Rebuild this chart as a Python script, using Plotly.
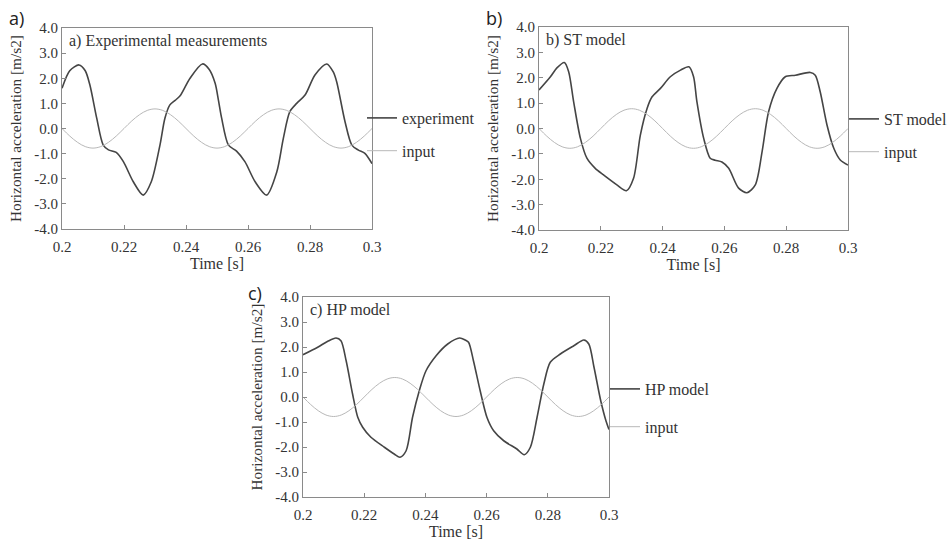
import plotly.graph_objects as go

# ---------------- data ----------------
input_t = [0.2000, 0.2025, 0.2050, 0.2075, 0.2100, 0.2125, 0.2150, 0.2175, 0.2200, 0.2225,
           0.2250, 0.2275, 0.2300, 0.2325, 0.2350, 0.2375, 0.2400, 0.2425, 0.2450, 0.2475,
           0.2500, 0.2525, 0.2550, 0.2575, 0.2600, 0.2625, 0.2650, 0.2675, 0.2700, 0.2725,
           0.2750, 0.2775, 0.2800, 0.2825, 0.2850, 0.2875, 0.2900, 0.2925, 0.2950, 0.2975,
           0.3000]
input_v = [0.00, -0.30, -0.55, -0.72, -0.78, -0.72, -0.55, -0.30, 0.00, 0.30,
           0.55, 0.72, 0.78, 0.72, 0.55, 0.30, 0.00, -0.30, -0.55, -0.72,
           -0.78, -0.72, -0.55, -0.30, 0.00, 0.30, 0.55, 0.72, 0.78, 0.72,
           0.55, 0.30, 0.00, -0.30, -0.55, -0.72, -0.78, -0.72, -0.55, -0.30,
           0.00]

exp_t = [0.2000, 0.2025, 0.2055, 0.2075, 0.2090, 0.2112, 0.2133, 0.2150, 0.2175, 0.2198,
         0.2230, 0.2262, 0.2288, 0.2316, 0.2332, 0.2348, 0.2365, 0.2381, 0.2413, 0.2453,
         0.2475, 0.2494, 0.2505, 0.2515, 0.2537, 0.2563, 0.2590, 0.2623, 0.2660, 0.2693,
         0.2714, 0.2735, 0.2757, 0.2784, 0.2816, 0.2854, 0.2875, 0.2886, 0.2913, 0.2935,
         0.2956, 0.2977, 0.3000]
exp_v = [1.60, 2.30, 2.53, 2.30, 1.73, 0.41, -0.66, -0.85, -0.95, -1.32,
         -2.12, -2.65, -2.12, -0.66, 0.41, 0.94, 1.12, 1.30, 2.00, 2.57,
         2.35, 1.80, 1.10, 0.41, -0.66, -0.90, -1.32, -2.12, -2.65, -1.72,
         -0.39, 0.67, 1.00, 1.33, 2.13, 2.57, 2.25, 1.86, 0.27, -0.66,
         -0.86, -0.99, -1.40]

st_t = [0.2000, 0.2037, 0.2058, 0.2082, 0.2096, 0.2112, 0.2134, 0.2155, 0.2182, 0.2209,
        0.2252, 0.2283, 0.2306, 0.2328, 0.2350, 0.2366, 0.2393, 0.2425, 0.2458, 0.2485,
        0.2500, 0.2511, 0.2533, 0.2554, 0.2570, 0.2592, 0.2614, 0.2646, 0.2673, 0.2700,
        0.2722, 0.2743, 0.2770, 0.2797, 0.2830, 0.2878, 0.2894, 0.2910, 0.2932, 0.2954,
        0.2975, 0.3000]
st_v = [1.52, 2.04, 2.39, 2.60, 2.24, 1.06, -0.39, -1.17, -1.57, -1.83,
        -2.22, -2.45, -1.96, -0.26, 0.80, 1.25, 1.58, 2.04, 2.30, 2.43,
        2.05, 1.06, -0.39, -1.17, -1.25, -1.32, -1.57, -2.35, -2.53, -2.22,
        -0.91, 0.66, 1.58, 2.04, 2.10, 2.21, 2.10, 1.45, 0.14, -0.78,
        -1.24, -1.44]

hp_t = [0.2000, 0.2048, 0.2081, 0.2108, 0.2124, 0.2141, 0.2162, 0.2179, 0.2195, 0.2222,
        0.2266, 0.2298, 0.2317, 0.2337, 0.2358, 0.2380, 0.2402, 0.2435, 0.2473, 0.2512,
        0.2530, 0.2541, 0.2557, 0.2579, 0.2601, 0.2623, 0.2656, 0.2699, 0.2723, 0.2743,
        0.2765, 0.2787, 0.2808, 0.2841, 0.2885, 0.2918, 0.2934, 0.2951, 0.2973, 0.2990,
        0.3000]
hp_v = [1.69, 1.99, 2.23, 2.36, 2.25, 1.45, 0.12, -0.81, -1.21, -1.61,
        -2.01, -2.28, -2.41, -2.15, -0.81, 0.25, 1.05, 1.65, 2.12, 2.36,
        2.28, 2.19, 1.45, 0.25, -0.81, -1.35, -1.75, -2.08, -2.31, -2.01,
        -0.81, 0.52, 1.39, 1.72, 2.05, 2.28, 2.12, 1.19, -0.15, -0.95,
        -1.30]

y_ticks = [-4, -3, -2, -1, 0, 1, 2, 3, 4]
y_labels = ["-4.0", "-3.0", "-2.0", "-1.0", "0.0", "1.0", "2.0", "3.0", "4.0"]
x_ticks = [0.2, 0.22, 0.24, 0.26, 0.28, 0.3]
x_labels = ["0.2", "0.22", "0.24", "0.26", "0.28", "0.3"]

model_names = ["experiment", "ST model", "HP model"]
panel_titles = ["a) Experimental measurements", "b) ST model", "c) HP model"]
panel_tags = ["a)", "b)", "c)"]

# ---------------- styling ----------------
W, H = 952, 540
SERIF = "Liberation Serif"
TXT = "#333333"
MAIN = "#454545"
INP = "#b8b8b8"
FRAME = "#8a8a8a"

# panel boxes in pixels: (left, right, top, bottom)
boxes = [(62, 372, 28, 229), (539, 848, 27, 230), (303, 609, 297, 497)]

def px(x):
    return x / W

def py(y):
    return 1 - y / H

fig = go.Figure()
series = [(exp_t, exp_v), (st_t, st_v), (hp_t, hp_v)]
legend_ids = ["legend", "legend2", "legend3"]

for i, ((tt, vv), name) in enumerate(zip(series, model_names)):
    xa = "x" if i == 0 else f"x{i+1}"
    ya = "y" if i == 0 else f"y{i+1}"
    fig.add_trace(go.Scatter(x=tt, y=vv, mode="lines", name=name,
                             line=dict(color=MAIN, width=1.6, shape="spline", smoothing=0.8),
                             xaxis=xa, yaxis=ya, legend=legend_ids[i], legendgroup=f"m{i}"))
    fig.add_trace(go.Scatter(x=input_t, y=input_v, mode="lines", name="input",
                             line=dict(color=INP, width=1.0, shape="spline", smoothing=1.0),
                             xaxis=xa, yaxis=ya, legend=legend_ids[i], legendgroup=f"i{i}"))

layout = dict(width=W, height=H, margin=dict(l=0, r=0, t=0, b=0, autoexpand=False),
              paper_bgcolor="white", plot_bgcolor="white",
              font=dict(family=SERIF, size=16, color=TXT), showlegend=True)

axis_common = dict(showgrid=False, zeroline=False, showline=True, mirror=True,
                   linecolor=FRAME, linewidth=1, ticks="inside", ticklen=4,
                   tickcolor=FRAME, automargin=False,
                   tickfont=dict(family=SERIF, size=15, color=TXT))

annotations = []
for i, (l, r, t, b) in enumerate(boxes):
    sx = "" if i == 0 else str(i + 1)
    layout[f"xaxis{sx}"] = dict(axis_common, domain=[px(l), px(r)], range=[0.2, 0.3],
                                tickvals=x_ticks, ticktext=x_labels,
                                anchor=f"y{sx}", ticklabelstandoff=4,
                                title=dict(text="Time [s]", font=dict(family=SERIF, size=16, color=TXT), standoff=3))
    layout[f"yaxis{sx}"] = dict(axis_common, domain=[py(b), py(t)], range=[-4, 4],
                                tickvals=y_ticks, ticktext=y_labels,
                                anchor=f"x{sx}",
                                title=dict(text="Horizontal acceleration [m/s2]",
                                           font=dict(family=SERIF, size=15.3, color=TXT), standoff=8))
    annotations.append(dict(text=panel_titles[i], xref="paper", yref="paper",
                            x=px(l + 5), y=py(t + 13), xanchor="left", yanchor="middle",
                            showarrow=False, font=dict(family=SERIF, size=16, color=TXT)))

# panel tags
tag_pos = [(7, 18), (484, 18), (246, 293)]
for tag, (x, y) in zip(panel_tags, tag_pos):
    annotations.append(dict(text=tag, xref="paper", yref="paper", x=px(x), y=py(y),
                            xanchor="left", yanchor="middle", showarrow=False,
                            font=dict(family="Open Sans", size=18, color="#222222")))

layout["annotations"] = annotations

legend_pos = [(362, 101, 9), (844, 102, 9), (605, 372, 14)]
for lid, (x, y, gap) in zip(legend_ids, legend_pos):
    layout[lid] = dict(x=px(x), y=py(y), xanchor="left", yanchor="top",
                       bgcolor="rgba(0,0,0,0)", tracegroupgap=gap,
                       font=dict(family=SERIF, size=16, color=TXT))

fig.update_layout(**layout)
fig.write_html("out.html", config={"displayModeBar": False},
               post_script="document.body.style.margin='0px';")
